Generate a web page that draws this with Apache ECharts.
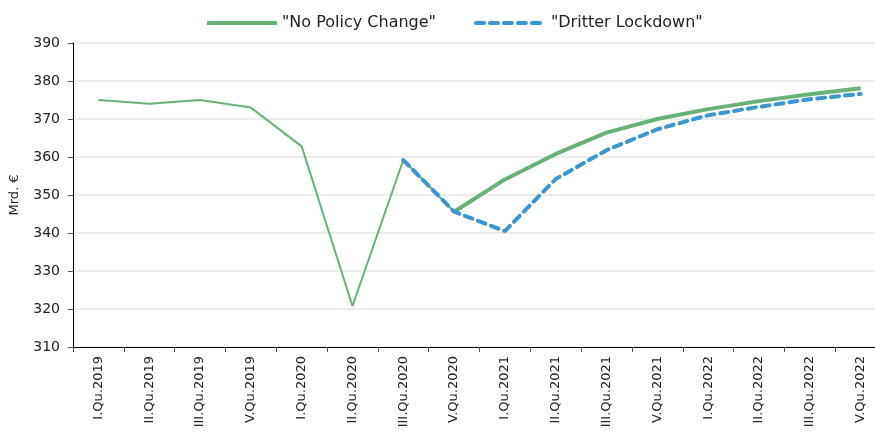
<!DOCTYPE html>
<html><head><meta charset="utf-8">
<script src="https://cdn.jsdelivr.net/npm/echarts@6/dist/echarts.min.js"></script>
<style>html,body{margin:0;padding:0;background:#fff}#c{width:875px;height:434px}</style>
</head><body><div id="c"></div>
<script>
const categories = ["I.Qu.2019","II.Qu.2019","III.Qu.2019","V.Qu.2019","I.Qu.2020","II.Qu.2020","III.Qu.2020","V.Qu.2020","I.Qu.2021","II.Qu.2021","III.Qu.2021","V.Qu.2021","I.Qu.2022","II.Qu.2022","III.Qu.2022","V.Qu.2022"];
const history = [375.0,374.0,375.0,373.0,362.8,320.8,359.2,345.6,null,null,null,null,null,null,null,null];
const noPolicyChange = [null,null,null,null,null,null,null,345.6,354.1,360.8,366.4,370.0,372.6,374.7,376.5,378.1];
const dritterLockdown = [null,null,null,null,null,null,359.2,345.6,340.5,354.2,361.8,367.3,371.0,373.2,375.2,376.6];
const yTicks = {min:310, max:390, interval:10};

const green = '#68b27a', blue = '#3b95cf';
const font = 'DejaVu Sans';
const chart = echarts.init(document.getElementById('c'));
chart.setOption({
  animation:false,
  textStyle:{fontFamily:font},
  grid:{left:73, width:813, top:43, height:304, containLabel:false, outerBoundsMode:'none'},
  legend:{
    data:['"No Policy Change"','"Dritter Lockdown"'],
    left:200, top:10, itemWidth:70, itemHeight:14, itemGap:38,
    itemStyle:{opacity:0},
    lineStyle:{width:4},
    textStyle:{fontFamily:font, fontSize:16, color:'#222'}
  },
  xAxis:{
    type:'category', data:categories, boundaryGap:true,
    axisLine:{lineStyle:{color:'#000', width:1}},
    axisTick:{show:true, interval:0, length:5, lineStyle:{color:'#555'}},
    axisLabel:{interval:0, rotate:90, fontSize:13, color:'#222', margin:9, fontFamily:font}
  },
  yAxis:{
    type:'value', min:yTicks.min, max:yTicks.max, interval:yTicks.interval,
    name:'Mrd. €', nameLocation:'middle', nameGap:52, nameRotate:90,
    nameTextStyle:{fontSize:13, color:'#222', fontFamily:font},
    axisLine:{show:true, lineStyle:{color:'#000', width:1}},
    axisTick:{show:true, length:5, lineStyle:{color:'#555'}},
    axisLabel:{fontSize:14, color:'#222', margin:13, fontFamily:font},
    splitLine:{lineStyle:{color:'#ececec', width:2}}
  },
  series:[
    {name:'hist', type:'line', data:history, symbol:'none', connectNulls:false,
     lineStyle:{color:green, width:2}, itemStyle:{color:green}},
    {name:'"No Policy Change"', type:'line', data:noPolicyChange, symbol:'none',
     lineStyle:{color:green, width:4}, itemStyle:{color:green}},
    {name:'"Dritter Lockdown"', type:'line', data:dritterLockdown, symbol:'none',
     lineStyle:{color:blue, width:4, type:[8,6], cap:'round'}, itemStyle:{color:blue}}
  ]
});
</script></body></html>
